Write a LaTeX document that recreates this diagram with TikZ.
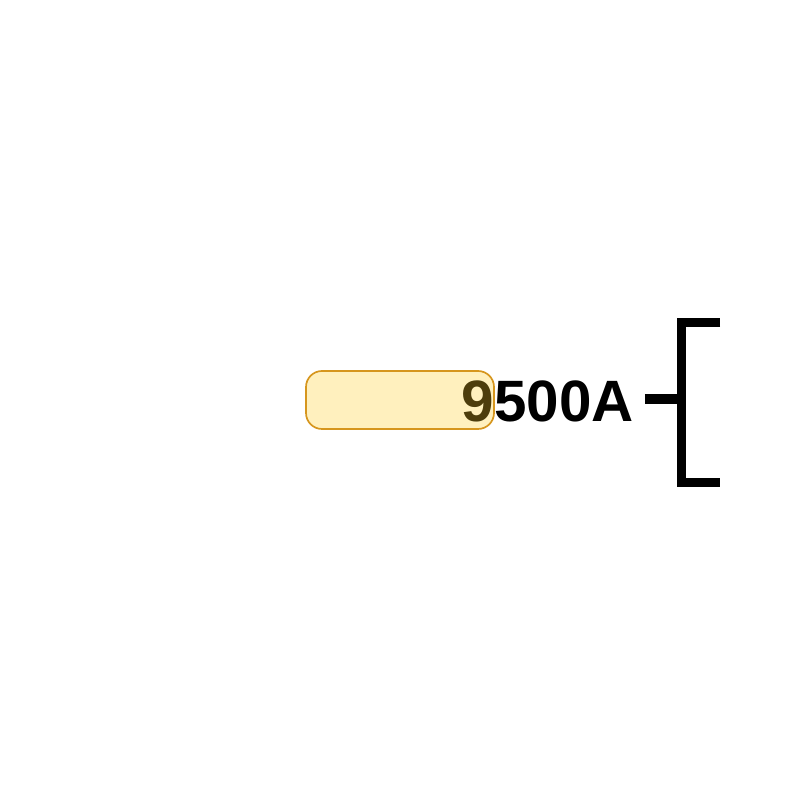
\documentclass[tikz,border=0pt]{standalone}
\usepackage{fontspec}
\setmainfont{Liberation Sans}
\usetikzlibrary{positioning,calc}
\definecolor{boxfill}{RGB}{255,205,40}
\definecolor{boxline}{RGB}{214,150,30}
\begin{document}
\begin{tikzpicture}[
    labelbox/.style={draw=boxline, line width=1.2pt, fill=boxfill, fill opacity=0.3,
        rounded corners=0.4cm, minimum width=4.7cm, minimum height=1.45cm, inner sep=0pt},
    valtext/.style={font=\fontsize{41.5}{48}\selectfont\bfseries, inner sep=0pt},
    bracket/.style={line width=6.6pt, line join=miter}
]
    \useasboundingbox (0,0) rectangle (20,20);

    % Valeur
    \node[valtext, anchor=base west] (val) at (11.54,9.45) {9500A};

    % Étiquette (par-dessus le texte)
    \node[labelbox] (tag) at (10,10) {};

    % Accolade
    \coordinate (brk) at (17.03,10.025);
    \coordinate (brktop) at (17.03,11.94);
    \coordinate (brkbot) at (17.03,7.94);
    \draw[bracket] ([xshift=0.27cm]val.east |- brk) -- (brk);
    \draw[bracket] (18,11.94) -- (brktop) -- (brkbot) -- (18,7.94);
\end{tikzpicture}
\end{document}
